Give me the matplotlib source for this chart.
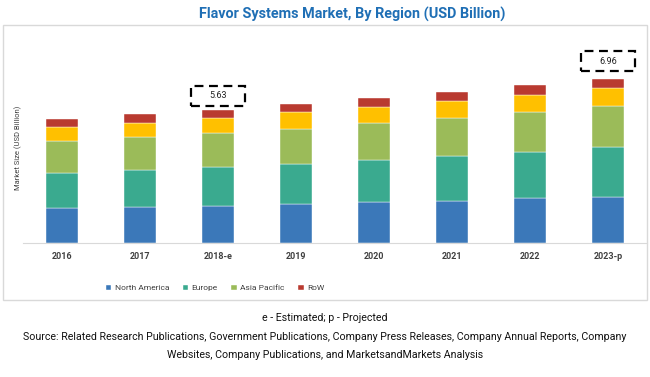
import matplotlib
matplotlib.use("Agg")
import matplotlib.pyplot as plt
from matplotlib.patches import Rectangle
import numpy as np

plt.rcParams['font.family'] = ['Roboto', 'DejaVu Sans']

# data (USD billion)
years = ["2016", "2017", "2018-e", "2019", "2020", "2021", "2022", "2023-p"]
north_america = [1.46, 1.50, 1.57, 1.63, 1.73, 1.79, 1.89, 1.96]
europe = [1.50, 1.59, 1.64, 1.71, 1.79, 1.90, 1.98, 2.10]
asia_pacific = [1.37, 1.39, 1.45, 1.50, 1.57, 1.63, 1.70, 1.77]
latin_america = [0.60, 0.62, 0.62, 0.70, 0.68, 0.72, 0.72, 0.74]
row = [0.33, 0.36, 0.35, 0.35, 0.40, 0.37, 0.41, 0.39]
callouts = {"2018-e": "5.63", "2023-p": "6.96"}

series = [north_america, europe, asia_pacific, latin_america, row]
names = ["North America", "Europe", "Asia Pacific", None, "RoW"]
colors = ["#3b78b9", "#3aaa8f", "#9bbb59", "#ffc000", "#b93a30"]

W, H = 650, 377
fig = plt.figure(figsize=(6.5, 3.77), dpi=100)

# outer light border
fig.patches.append(Rectangle((3 / W, 1 - 300 / H), 644 / W, 275 / H,
                             transform=fig.transFigure, fill=False,
                             edgecolor="#d9d9d9", lw=1))

ax_top, ax_bot = 30, 242.7
ax = fig.add_axes([23 / W, 1 - ax_bot / H, 624 / W, (ax_bot - ax_top) / H])
per_px = 0.0425
ax.set_ylim(0, (ax_bot - ax_top) * per_px)
ax.set_xlim(-0.5, len(years) - 0.5)

x = np.arange(len(years))
bottom = np.zeros(len(years))
handles = []
for vals, name, c in zip(series, names, colors):
    b = ax.bar(x, vals, 0.40, bottom=bottom, color=c, edgecolor="white", linewidth=0.3)
    if name:
        handles.append((b, name))
    bottom += np.array(vals)

# dashed callouts
for i, yr in enumerate(years):
    if yr in callouts:
        off = 0.2 if yr == "2018-e" else 0.35
        bw, bh = 0.68, 0.82
        yc = bottom[i] + off + bh / 2
        ax.add_patch(Rectangle((i - bw / 2, yc - bh / 2), bw, bh, fill=False,
                               edgecolor="black", lw=1.6, linestyle=(0, (4, 2.5)),
                               clip_on=False))
        ax.text(i, yc, callouts[yr], ha="center", va="center", fontsize=6.5, color="#222222")

for s in ["top", "right", "left"]:
    ax.spines[s].set_visible(False)
ax.spines["bottom"].set_color("#d9d9d9")
ax.set_yticks([])
ax.set_xticks(x)
ax.set_xticklabels(years, fontsize=6.5, color="#404040", fontweight="bold")
ax.tick_params(axis="x", length=0, pad=7)

fig.text(18 / W, 1 - 148 / H, "Market Size (USD Billion)", rotation=90,
         ha="center", va="center", fontsize=5.5, color="#404040")

fig.text(352 / W, 1 - 14 / H, "Flavor Systems Market, By Region (USD Billion)",
         ha="center", va="center", fontsize=10.4, fontweight="bold", color="#1f6fb5")

leg = fig.legend([h for h, _ in handles], [n for _, n in handles], loc="center",
                 bbox_to_anchor=(215 / W, 1 - 288 / H), ncol=4, frameon=False,
                 fontsize=6, handlelength=0.7, handleheight=0.7, handletextpad=0.4,
                 columnspacing=1.6)
for t in leg.get_texts():
    t.set_color("#404040")

fig.text(325 / W, 1 - 318 / H, "e - Estimated; p - Projected", ha="center",
         va="center", fontsize=7.7, color="#111111")
fig.text(325 / W, 1 - 337 / H,
         "Source: Related Research Publications, Government Publications, Company Press Releases, Company Annual Reports, Company",
         ha="center", va="center", fontsize=7.7, color="#111111")
fig.text(325 / W, 1 - 355 / H,
         "Websites, Company Publications, and MarketsandMarkets Analysis",
         ha="center", va="center", fontsize=7.7, color="#111111")

fig.savefig("out.png", dpi=100, facecolor="white")
